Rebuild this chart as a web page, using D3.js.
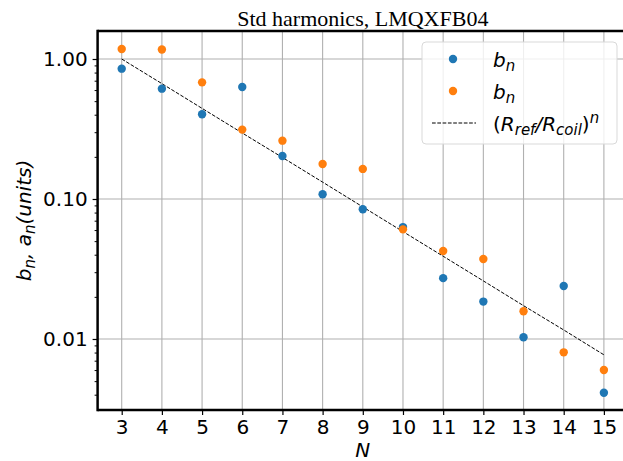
<!DOCTYPE html>
<html>
<head>
<meta charset="utf-8">
<script src="https://cdn.jsdelivr.net/npm/d3@7"></script>
<style>
  html, body { margin: 0; padding: 0; background: #fff; }
  svg { display: block; }
  text { font-family: "DejaVu Sans", sans-serif; }
</style>
</head>
<body>
<div id="chart"></div>
<script>
// ---- data ----
const harmonicN = [3, 4, 5, 6, 7, 8, 9, 10, 11, 12, 13, 14, 15];
const bnValues = [0.853, 0.614, 0.403, 0.631, 0.203, 0.108, 0.0844, 0.063, 0.0272, 0.0185, 0.0103, 0.0239, 0.00413];
const anValues = [1.18, 1.17, 0.681, 0.313, 0.261, 0.178, 0.164, 0.0607, 0.0425, 0.0373, 0.0158, 0.00803, 0.0060];
const refValues = [1.0, 0.667, 0.444, 0.296, 0.198, 0.132, 0.0878, 0.0585, 0.0390, 0.0260, 0.0173, 0.0116, 0.00771];
const yTickValues = [0.01, 0.1, 1];
const yTickLabels = ["0.01", "0.10", "1.00"];
const xTickValues = harmonicN;
const titleText = "Std harmonics, LMQXFB04";

// ---- layout ----
const W = 623, H = 461;
const pLeft = 97.6, pRight = 628, pTop = 31, pBottom = 410;

const svg = d3.select("#chart").append("svg").attr("width", W).attr("height", H);

const x = d3.scaleLinear().domain([2.4, 15.6]).range([pLeft, pRight]);
const y = d3.scaleLog().domain([0.00311, 1.585]).range([pBottom, pTop]);

const clipId = "plotclip";
svg.append("defs").append("clipPath").attr("id", clipId)
  .append("rect").attr("x", pLeft).attr("y", pTop).attr("width", pRight - pLeft).attr("height", pBottom - pTop);

// grid
const grid = svg.append("g").attr("clip-path", `url(#${clipId})`);
grid.selectAll("line.gx").data(xTickValues).join("line").attr("class", "gx")
  .attr("x1", d => x(d)).attr("x2", d => x(d)).attr("y1", pTop).attr("y2", pBottom)
  .attr("stroke", "#b0b0b0").attr("stroke-width", 1.1);
grid.selectAll("line.gy").data(yTickValues).join("line").attr("class", "gy")
  .attr("y1", d => y(d)).attr("y2", d => y(d)).attr("x1", pLeft).attr("x2", pRight)
  .attr("stroke", "#b0b0b0").attr("stroke-width", 1.1);

// minor ticks
const minorTicks = [];
[0.001, 0.01, 0.1, 1].forEach(dec => { for (let k = 2; k <= 9; k++) { const v = dec * k; if (v > y.domain()[0] && v < y.domain()[1]) minorTicks.push(v); } });

const yAxisMinor = d3.axisLeft(y).tickValues(minorTicks).tickSize(3).tickFormat("");
const gMinor = svg.append("g").attr("transform", `translate(${pLeft},0)`).call(yAxisMinor);
gMinor.select(".domain").remove();
gMinor.selectAll("line").attr("stroke", "#000").attr("stroke-width", 1);

const yAxis = d3.axisLeft(y).tickValues(yTickValues).tickSize(5).tickPadding(5)
  .tickFormat((d, i) => yTickLabels[i]);
const gy = svg.append("g").attr("transform", `translate(${pLeft},0)`).call(yAxis);
gy.select(".domain").remove();
gy.selectAll("line").attr("stroke", "#000").attr("stroke-width", 1.2);
gy.selectAll("text").attr("font-size", 20).attr("font-family", "DejaVu Sans").attr("fill", "#000");

const xAxis = d3.axisBottom(x).tickValues(xTickValues).tickSize(5).tickPadding(5).tickFormat(d3.format("d"));
const gx = svg.append("g").attr("transform", `translate(0,${pBottom})`).call(xAxis);
gx.select(".domain").remove();
gx.selectAll("line").attr("stroke", "#000").attr("stroke-width", 1.2);
gx.selectAll("text").attr("font-size", 20).attr("font-family", "DejaVu Sans").attr("fill", "#000");

// reference line
const plot = svg.append("g").attr("clip-path", `url(#${clipId})`);
const line = d3.line().x((d, i) => x(harmonicN[i])).y(d => y(d));
plot.append("path").datum(refValues).attr("d", line)
  .attr("fill", "none").attr("stroke", "#000").attr("stroke-width", 1)
  .attr("stroke-dasharray", "3.7,1.6");

// points
plot.selectAll("circle.bn").data(bnValues).join("circle").attr("class", "bn")
  .attr("cx", (d, i) => x(harmonicN[i])).attr("cy", d => y(d)).attr("r", 4.2).attr("fill", "#1f77b4");
plot.selectAll("circle.an").data(anValues).join("circle").attr("class", "an")
  .attr("cx", (d, i) => x(harmonicN[i])).attr("cy", d => y(d)).attr("r", 4.2).attr("fill", "#ff7f0e");

// spines
const sp = svg.append("g").attr("stroke", "#000").attr("stroke-width", 2.5).attr("fill", "none");
sp.append("line").attr("x1", pLeft).attr("x2", pLeft).attr("y1", pTop - 1.25).attr("y2", pBottom + 1.25);
sp.append("line").attr("x1", pLeft).attr("x2", pRight).attr("y1", pTop).attr("y2", pTop);
sp.append("line").attr("x1", pLeft).attr("x2", pRight).attr("y1", pBottom).attr("y2", pBottom);
sp.append("line").attr("x1", pRight).attr("x2", pRight).attr("y1", pTop).attr("y2", pBottom);

// title
svg.append("text").attr("x", (pLeft + pRight) / 2).attr("y", 26).attr("text-anchor", "middle")
  .attr("font-size", 22).attr("fill", "#000")
  .style("font-family", "'Liberation Serif', 'Times New Roman', serif")
  .text(titleText);

// x label
svg.append("text").attr("x", (pLeft + pRight) / 2).attr("y", 457).attr("text-anchor", "middle")
  .attr("font-size", 20).attr("font-style", "italic").text("N");

// y label
const yl = svg.append("text").attr("transform", `translate(31,${(pTop + pBottom) / 2}) rotate(-90)`)
  .attr("text-anchor", "middle").attr("font-size", 20).attr("font-style", "italic");
yl.append("tspan").text("b");
yl.append("tspan").attr("font-size", 15).attr("dy", 4).text("n");
yl.append("tspan").attr("dy", -4).text(", a");
yl.append("tspan").attr("font-size", 15).attr("dy", 4).text("n");
yl.append("tspan").attr("dy", -4).text("(units)");

// legend
const lg = svg.append("g");
lg.append("rect").attr("x", 422).attr("y", 42).attr("width", 195).attr("height", 102).attr("rx", 4)
  .attr("fill", "#fff").attr("fill-opacity", 0.8).attr("stroke", "#d9d9d9").attr("stroke-width", 1);
lg.append("circle").attr("cx", 453).attr("cy", 59).attr("r", 4.2).attr("fill", "#1f77b4");
lg.append("circle").attr("cx", 453).attr("cy", 91).attr("r", 4.2).attr("fill", "#ff7f0e");
lg.append("line").attr("x1", 432).attr("x2", 476).attr("y1", 123).attr("y2", 123)
  .attr("stroke", "#000").attr("stroke-width", 1).attr("stroke-dasharray", "3.7,1.6");

function bnLabel(yy) {
  const t = lg.append("text").attr("x", 493).attr("y", yy).attr("font-size", 20).attr("font-style", "italic");
  t.append("tspan").text("b");
  t.append("tspan").attr("font-size", 15).attr("dy", 4).text("n");
}
bnLabel(67);
bnLabel(99);
const rt = lg.append("text").attr("x", 493).attr("y", 131).attr("font-size", 20);
rt.append("tspan").text("(");
rt.append("tspan").attr("font-style", "italic").text("R");
rt.append("tspan").attr("font-style", "italic").attr("font-size", 15).attr("dy", 4).text("ref");
rt.append("tspan").attr("font-style", "italic").attr("dy", -4).text("/R");
rt.append("tspan").attr("font-style", "italic").attr("font-size", 15).attr("dy", 4).text("coil");
rt.append("tspan").attr("dy", -4).text(")");
rt.append("tspan").attr("font-style", "italic").attr("font-size", 15).attr("dy", -8).text("n");
</script>
</body>
</html>
